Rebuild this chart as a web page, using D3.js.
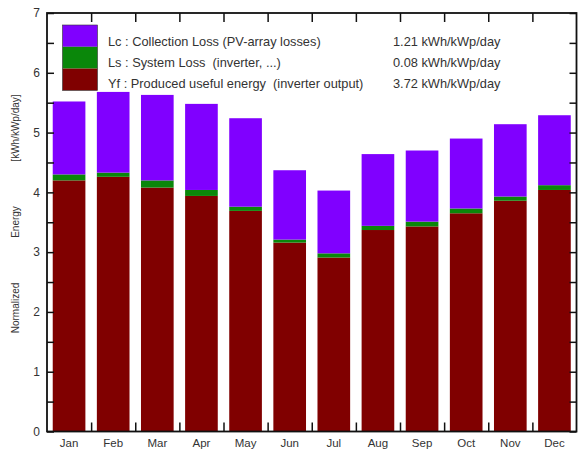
<!DOCTYPE html>
<html>
<head>
<meta charset="utf-8">
<script src="https://cdn.jsdelivr.net/npm/d3@7"></script>
<style>
  html, body { margin: 0; padding: 0; background: #fff; }
  svg { display: block; }
  text { font-family: "Liberation Sans", Arial, sans-serif; fill: #333; white-space: pre; }
</style>
</head>
<body>
<svg id="chart" width="578" height="452"></svg>
<script>
// Monthly normalized energy (kWh/kWp/day)
const months = ["Jan", "Feb", "Mar", "Apr", "May", "Jun", "Jul", "Aug", "Sep", "Oct", "Nov", "Dec"];
const yieldYf = [4.20, 4.26, 4.08, 3.94, 3.69, 3.16, 2.91, 3.37, 3.43, 3.65, 3.86, 4.04];
const systemLossLs = [0.10, 0.07, 0.12, 0.10, 0.07, 0.05, 0.07, 0.07, 0.08, 0.08, 0.07, 0.08];
const collectionLossLc = [1.22, 1.35, 1.43, 1.44, 1.48, 1.16, 1.05, 1.20, 1.19, 1.17, 1.21, 1.17];
const yTicks = [0, 1, 2, 3, 4, 5, 6, 7];

const seriesKeys = ["Yf", "Ls", "Lc"];
const seriesColors = { Yf: "#800000", Ls: "#0a870a", Lc: "#8000ff" };
const legendItems = [
  { key: "Lc", label: "Lc : Collection Loss (PV-array losses)", value: "1.21 kWh/kWp/day" },
  { key: "Ls", label: "Ls : System Loss  (inverter, ...)", value: "0.08 kWh/kWp/day" },
  { key: "Yf", label: "Yf : Produced useful energy  (inverter output)", value: "3.72 kWh/kWp/day" }
];

const rows = months.map((m, i) => ({ month: m, Yf: yieldYf[i], Ls: systemLossLs[i], Lc: collectionLossLc[i] }));
const stacked = d3.stack().keys(seriesKeys)(rows);

const svg = d3.select("#chart");
const plotL = 47, plotR = 576.5, plotT = 13, plotB = 431.5;

const x = d3.scaleBand().domain(months).range([plotL, plotR]).paddingInner(0.26).paddingOuter(0.13);
const xEdges = d3.scaleLinear().domain([0, months.length]).range([plotL, plotR]);
const y = d3.scaleLinear().domain([0, 7]).range([plotB, plotT]);

// Stacked bars
svg.append("g").selectAll("g")
  .data(stacked)
  .join("g")
  .attr("fill", d => seriesColors[d.key])
  .selectAll("rect")
  .data(d => d)
  .join("rect")
  .attr("x", d => x(d.data.month))
  .attr("width", x.bandwidth())
  .attr("y", d => y(d[1]))
  .attr("height", d => y(d[0]) - y(d[1]));

// Y ticks every 0.5, inward on both sides
const yMinor = d3.range(0, 7.01, 0.5);
const tickLen = 7;
svg.append("g").attr("transform", `translate(${plotL},0)`)
  .call(d3.axisRight(y).tickValues(yMinor).tickSize(tickLen).tickFormat(""))
  .call(g => g.select(".domain").remove())
  .call(g => g.selectAll("line").attr("stroke", "#111").attr("stroke-width", 1.5));
svg.append("g").attr("transform", `translate(${plotR},0)`)
  .call(d3.axisLeft(y).tickValues(yMinor).tickSize(tickLen).tickFormat(""))
  .call(g => g.select(".domain").remove())
  .call(g => g.selectAll("line").attr("stroke", "#111").attr("stroke-width", 1.5));

// Y labels
svg.append("g").attr("transform", `translate(${plotL},0)`)
  .call(d3.axisLeft(y).tickValues(yTicks).tickSize(0).tickPadding(7).tickFormat(d3.format("d")))
  .call(g => g.select(".domain").remove())
  .call(g => g.selectAll("text").attr("font-size", 12).attr("fill", "#333")
    .style("font-family", "'Liberation Sans', Arial, sans-serif"));

// X ticks at month boundaries, inward at bottom and top
const edgeVals = d3.range(1, months.length);
svg.append("g").attr("transform", `translate(0,${plotB})`)
  .call(d3.axisTop(xEdges).tickValues(edgeVals).tickSize(9).tickFormat(""))
  .call(g => g.select(".domain").remove())
  .call(g => g.selectAll("line").attr("stroke", "#111").attr("stroke-width", 1.5));
svg.append("g").attr("transform", `translate(0,${plotT})`)
  .call(d3.axisBottom(xEdges).tickValues(edgeVals).tickSize(9).tickFormat(""))
  .call(g => g.select(".domain").remove())
  .call(g => g.selectAll("line").attr("stroke", "#111").attr("stroke-width", 1.5));

// Month labels
svg.append("g").attr("transform", `translate(0,${plotB})`)
  .call(d3.axisBottom(x).tickSize(0).tickPadding(7))
  .call(g => g.select(".domain").remove())
  .call(g => g.selectAll("text").attr("font-size", 11.5).attr("fill", "#333")
    .style("font-family", "'Liberation Sans', Arial, sans-serif"));

// Frame
svg.append("rect")
  .attr("x", plotL).attr("y", plotT)
  .attr("width", plotR - plotL).attr("height", plotB - plotT)
  .attr("fill", "none").attr("stroke", "#111").attr("stroke-width", 1.8);

// Y axis title
const titleParts = [
  { t: "Normalized", c: 308 },
  { t: "Energy", c: 222 },
  { t: "[kWh/kWp/day]", c: 128 }
];
svg.append("g").selectAll("text")
  .data(titleParts)
  .join("text")
  .attr("transform", d => `translate(19,${d.c}) rotate(-90)`)
  .attr("text-anchor", "middle")
  .attr("font-size", 10)
  .attr("fill", "#444")
  .text(d => d.t);

// Legend
const lg = svg.append("g");
const swX = 62.5, swW = 35, swTop = 25, swH = 21.8;
legendItems.forEach((item, i) => {
  const yy = swTop + i * swH;
  lg.append("rect")
    .attr("x", swX).attr("y", yy).attr("width", swW).attr("height", swH)
    .attr("fill", seriesColors[item.key]);
  lg.append("text")
    .attr("x", 108).attr("y", 46 + i * 20.8)
    .attr("font-size", 12.8).attr("fill", "#333")
    .text(item.label);
  lg.append("text")
    .attr("x", 393).attr("y", 46 + i * 20.8)
    .attr("font-size", 12.8).attr("fill", "#333")
    .text(item.value);
});
lg.append("rect")
  .attr("x", swX).attr("y", swTop).attr("width", swW).attr("height", swH * 3)
  .attr("fill", "none").attr("stroke", "#333").attr("stroke-width", 0.6);
</script>
</body>
</html>
